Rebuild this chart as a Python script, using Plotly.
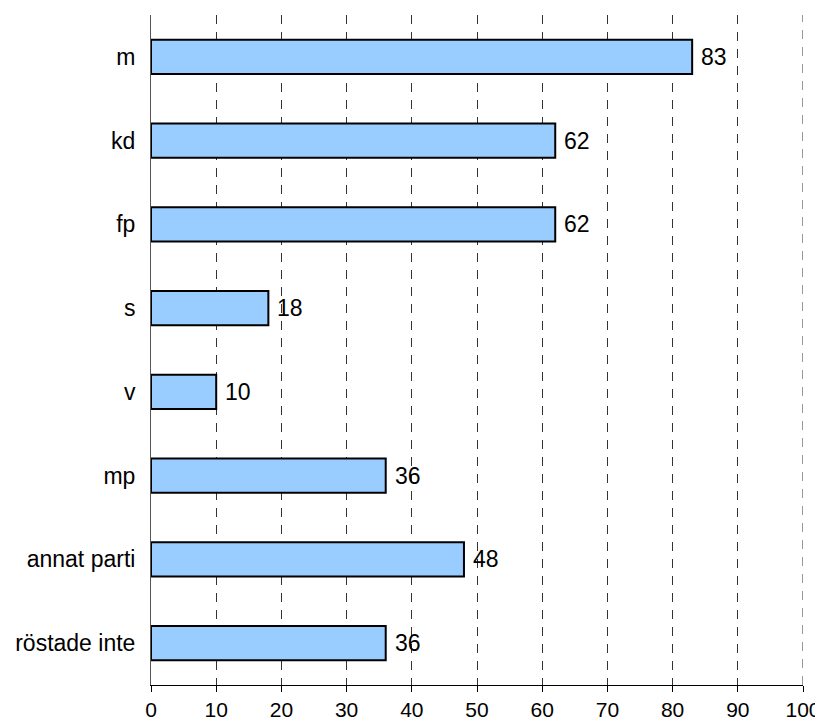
import plotly.graph_objects as go

categories = ["m", "kd", "fp", "s", "v", "mp", "annat parti", "röstade inte"]
values = [83, 62, 62, 18, 10, 36, 48, 36]
x_ticks = [0, 10, 20, 30, 40, 50, 60, 70, 80, 90, 100]

FONT = "Liberation Sans, Arial, sans-serif"

fig = go.Figure(go.Bar(
    y=categories,
    x=values,
    orientation="h",
    width=0.41,
    marker=dict(color="#99CCFF", line=dict(color="black", width=2)),
    cliponaxis=False,
))

for c, v in zip(categories, values):
    fig.add_annotation(
        x=v, y=c, text=str(v), showarrow=False,
        xanchor="left", yanchor="middle", xshift=7,
        font=dict(size=23, color="black", family=FONT),
    )

# gridline at the right edge of the axis (plotly omits it at the range end)
fig.add_shape(
    type="line", xref="x", yref="paper",
    x0=x_ticks[-1], x1=x_ticks[-1], y0=0, y1=1,
    line=dict(color="#333333", width=1, dash="9px,8px"),
    layer="below",
)

# page body has an 8px default margin, so the figure is sized to fit the window
fig.update_layout(
    width=815, height=717,
    margin=dict(l=143, r=20, t=7, b=40),
    plot_bgcolor="white", paper_bgcolor="white",
    showlegend=False,
    font=dict(family=FONT, size=23, color="black"),
)
fig.update_xaxes(
    range=[0, 100],
    tickvals=x_ticks,
    showgrid=True, gridcolor="#333333", gridwidth=1, griddash="9px,8px",
    showline=True, linecolor="black", linewidth=1,
    ticks="outside", ticklen=6, tickcolor="black",
    zeroline=False, automargin=False, ticklabelstandoff=0,
    tickfont=dict(size=21),
)
fig.update_yaxes(
    categoryorder="array", categoryarray=categories[::-1],
    range=[-0.5, 7.5],
    showgrid=False,
    showline=True, linecolor="#555555", linewidth=1,
    ticks="", ticklabelstandoff=10, automargin=False,
    tickfont=dict(size=23),
)

fig.write_html("out.html")
